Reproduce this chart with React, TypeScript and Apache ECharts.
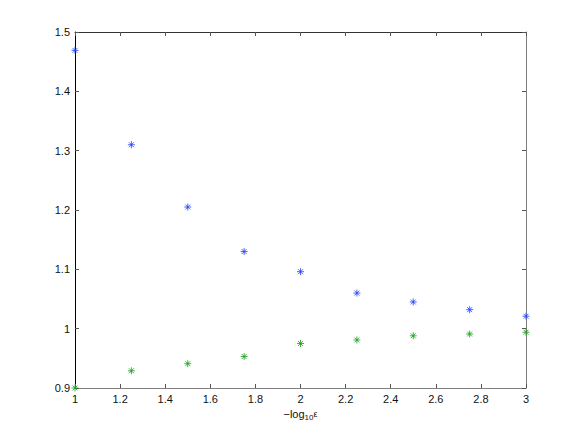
import React, { useEffect, useRef } from "react";
import * as echarts from "echarts";

const xValues = [1, 1.25, 1.5, 1.75, 2, 2.25, 2.5, 2.75, 3];
const blueValues = [1.469, 1.31, 1.205, 1.13, 1.096, 1.06, 1.045, 1.032, 1.021];
const greenValues = [0.9, 0.929, 0.941, 0.953, 0.975, 0.981, 0.988, 0.991, 0.994];

const ASTERISK =
  "path://M0,-10L0,10M-10,0L10,0M-7,-7L7,7M-7,7L7,-7";

const fmt = (v: number) => String(Math.round(v * 100) / 100);

export default function App() {
  const ref = useRef<HTMLDivElement>(null);
  useEffect(() => {
    if (!ref.current) return;
    const chart = echarts.init(ref.current, null, { renderer: "svg" });
    const font = "Liberation Sans, Arial, Helvetica, sans-serif";
    const tick = (show: boolean) => ({
      show,
      inside: true,
      length: 4,
      lineStyle: { color: "#555", width: 1 },
    });
    chart.setOption({
      animation: false,
      backgroundColor: "#fff",
      grid: { left: 75, right: 55, top: 32, bottom: 49, containLabel: false },
      xAxis: [
        {
          type: "value",
          min: 1,
          max: 3,
          interval: 0.2,
          position: "bottom",
          axisLine: { show: true, lineStyle: { color: "#808080", width: 1 } },
          axisTick: tick(true),
          splitLine: { show: false },
          axisLabel: {
            color: "#111",
            fontFamily: font,
            fontSize: 11,
            margin: 5,
            formatter: fmt,
          },
          name: "{a|−log}{s|10}{e|ε}",
          nameLocation: "middle",
          nameGap: 17,
          nameTextStyle: {
            rich: {
              a: { fontFamily: font, fontSize: 11, color: "#111" },
              s: {
                fontFamily: font,
                fontSize: 8,
                color: "#111",
                verticalAlign: "bottom",
                padding: [6, 0, 0, 0],
              },
              e: { fontFamily: font, fontSize: 9, color: "#111" },
            },
          },
        },
        {
          type: "value",
          min: 1,
          max: 3,
          interval: 0.2,
          position: "top",
          axisLine: { show: true, lineStyle: { color: "#333", width: 1 } },
          axisTick: tick(true),
          axisLabel: { show: false },
          splitLine: { show: false },
        },
      ],
      yAxis: [
        {
          type: "value",
          min: 0.9,
          max: 1.5,
          interval: 0.1,
          position: "left",
          axisLine: { show: true, lineStyle: { color: "#000", width: 1 } },
          axisTick: tick(true),
          splitLine: { show: false },
          axisLabel: {
            color: "#111",
            fontFamily: font,
            fontSize: 11,
            margin: 5,
            formatter: fmt,
          },
        },
        {
          type: "value",
          min: 0.9,
          max: 1.5,
          interval: 0.1,
          position: "right",
          axisLine: { show: true, lineStyle: { color: "#808080", width: 1 } },
          axisTick: tick(true),
          axisLabel: { show: false },
          splitLine: { show: false },
        },
      ],
      series: [
        {
          type: "scatter",
          xAxisIndex: 0,
          yAxisIndex: 0,
          symbol: ASTERISK,
          symbolSize: 7,
          itemStyle: { color: "#1f3fff", borderColor: "#1f3fff", borderWidth: 1 },
          data: xValues.map((x, i) => [x, blueValues[i]]),
          clip: false,
        },
        {
          type: "scatter",
          xAxisIndex: 0,
          yAxisIndex: 0,
          symbol: ASTERISK,
          symbolSize: 7,
          itemStyle: { color: "#15a015", borderColor: "#15a015", borderWidth: 1 },
          data: xValues.map((x, i) => [x, greenValues[i]]),
          clip: false,
        },
      ],
    });
    return () => chart.dispose();
  }, []);
  return (
    <div
      ref={ref}
      style={{ position: "fixed", left: 0, top: 0, width: 581, height: 437 }}
    />
  );
}
